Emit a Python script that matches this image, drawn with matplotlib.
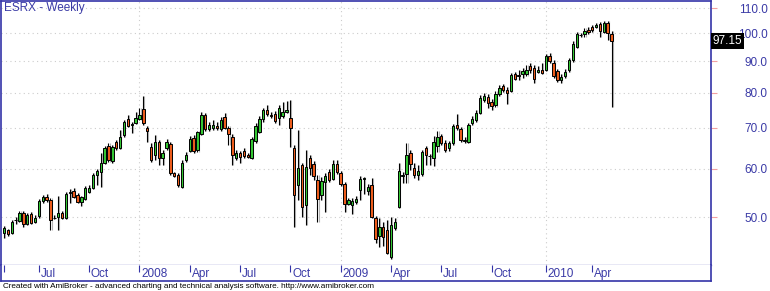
import matplotlib.pyplot as plt
import matplotlib.transforms as mtransforms

plt.rcParams['font.family'] = ['Liberation Sans', 'DejaVu Sans']

# -------------------------------
# Weekly OHLC
# -------------------------------
opens = [47.1, 47.6, 47.1, 49.4, 49.3, 50.7, 48.8, 50.6, 49.1, 50.2,
         53.2, 54.0, 53.3, 49.9, 50.0, 50.8, 49.8, 54.7, 55.2, 54.3,
         53.0, 53.6, 55.0, 55.9, 58.6, 59.3, 61.3, 65.5, 61.8, 66.3,
         65.0, 68.1, 72.5, 70.9, 71.4, 72.5, 75.1, 69.9, 65.2, 63.2,
         66.3, 62.4, 65.0, 65.9, 59.0, 58.6, 56.1, 62.0, 64.2, 67.4,
         64.3, 68.5, 73.4, 69.6, 69.9, 70.6, 69.6, 72.9, 69.9, 67.7,
         62.5, 63.6, 64.1, 63.2, 62.5, 66.6, 69.0, 72.3, 74.8, 73.4,
         73.9, 72.8, 73.2, 74.3, 72.8, 65.0, 56.4, 60.9, 52.3, 62.5,
         61.2, 57.5, 54.3, 57.1, 59.3, 57.8, 61.2, 59.0, 56.6, 52.6,
         52.3, 53.0, 55.3, 57.8, 55.1, 56.4, 49.8, 46.5, 48.2, 47.7,
         43.0, 47.9, 52.0, 58.4, 58.8, 63.7, 60.1, 58.6, 58.8, 64.8,
         62.9, 62.4, 65.5, 67.9, 66.2, 64.8, 66.0, 70.7, 69.6, 66.6,
         66.4, 71.2, 72.0, 74.1, 77.9, 78.7, 77.2, 76.2, 79.7, 81.9,
         80.9, 80.5, 85.7, 85.4, 85.7, 85.9, 88.3, 87.9, 86.4, 87.0,
         87.2, 91.7, 89.4, 86.7, 83.8, 85.0, 87.0, 90.3, 95.0, 99.3,
         99.6, 101.4, 102.4, 102.4, 103.7, 100.5, 104.0, 99.9]
highs = [48.3, 47.8, 49.4, 50.0, 51.2, 51.2, 50.8, 51.0, 50.4, 53.5,
         54.3, 54.5, 53.7, 50.4, 54.1, 51.2, 54.9, 55.5, 55.8, 54.7,
         54.1, 56.2, 56.4, 59.0, 60.0, 63.6, 65.3, 66.1, 65.6, 66.8,
         69.4, 72.0, 73.4, 71.5, 74.3, 75.4, 79.0, 70.5, 66.1, 68.1,
         66.8, 64.3, 67.1, 66.4, 59.3, 59.0, 62.0, 63.8, 67.9, 68.1,
         69.1, 74.3, 74.0, 71.5, 72.1, 71.5, 72.9, 74.0, 70.5, 68.3,
         64.3, 64.1, 64.8, 63.6, 67.6, 71.3, 73.1, 75.4, 76.2, 74.3,
         74.6, 76.2, 77.1, 77.4, 77.7, 65.6, 69.4, 61.3, 64.3, 63.1,
         61.8, 58.6, 58.1, 59.0, 59.9, 62.0, 62.0, 59.5, 57.0, 53.7,
         53.7, 54.1, 58.3, 58.1, 56.6, 57.9, 50.2, 49.8, 49.1, 49.4,
         50.0, 49.8, 61.3, 59.3, 66.1, 64.3, 61.3, 60.9, 64.3, 65.3,
         63.4, 67.9, 69.1, 68.3, 66.8, 66.6, 71.0, 73.7, 70.2, 67.6,
         71.3, 73.1, 74.8, 79.2, 79.8, 79.5, 78.0, 80.4, 82.2, 82.5,
         81.6, 86.0, 86.3, 87.0, 87.6, 88.6, 89.3, 88.6, 88.3, 89.3,
         92.4, 92.8, 90.3, 87.3, 85.7, 87.3, 91.0, 97.0, 100.4, 100.0,
         102.0, 102.3, 103.1, 103.8, 104.2, 104.6, 104.6, 100.8]
lows = [46.2, 46.5, 46.9, 48.7, 49.1, 48.1, 48.5, 48.7, 48.9, 49.8,
        52.7, 52.9, 47.6, 49.6, 47.6, 49.6, 49.6, 52.7, 53.7, 52.7,
        52.1, 53.3, 54.7, 55.5, 56.4, 56.1, 61.0, 61.5, 61.3, 64.3,
        64.6, 67.6, 70.2, 68.6, 71.0, 72.1, 70.7, 66.4, 61.5, 62.0,
        60.9, 60.9, 64.3, 58.6, 58.1, 56.0, 55.8, 61.5, 63.8, 63.6,
        63.8, 68.1, 69.1, 69.1, 69.4, 69.4, 69.1, 69.6, 65.6, 60.9,
        62.0, 61.3, 62.4, 62.4, 62.2, 66.1, 68.6, 71.5, 73.1, 72.6,
        71.3, 70.7, 72.6, 74.0, 65.2, 48.2, 53.3, 50.0, 48.5, 58.6,
        57.5, 49.1, 53.3, 50.9, 57.0, 57.5, 58.8, 56.2, 50.9, 52.3,
        50.6, 52.5, 53.3, 54.5, 54.3, 49.8, 45.3, 44.6, 44.8, 43.5,
        42.7, 47.6, 51.7, 56.9, 56.9, 59.7, 57.9, 57.5, 58.3, 60.9,
        60.9, 60.6, 63.8, 65.6, 63.8, 64.1, 65.6, 69.4, 66.4, 66.1,
        66.1, 70.7, 71.5, 73.7, 77.1, 75.4, 74.8, 75.7, 78.9, 80.1,
        76.5, 80.1, 83.8, 83.8, 84.4, 85.0, 86.0, 82.8, 86.0, 85.7,
        86.7, 89.3, 84.4, 83.2, 82.8, 84.4, 86.3, 89.6, 94.5, 98.5,
        98.5, 99.6, 100.4, 101.9, 98.5, 100.0, 97.4, 75.6]
closes = [47.9, 46.9, 49.1, 49.5, 50.8, 48.8, 50.4, 48.9, 49.9, 53.2,
          53.9, 53.3, 49.4, 49.8, 50.8, 49.9, 54.5, 54.9, 54.0, 53.0,
          53.9, 55.7, 55.9, 58.6, 59.6, 61.3, 64.8, 62.1, 65.2, 64.8,
          67.7, 71.6, 70.6, 71.0, 72.8, 73.4, 71.4, 69.2, 62.0, 66.3,
          62.5, 63.6, 66.3, 59.0, 58.4, 56.4, 61.4, 63.3, 67.1, 64.1,
          68.8, 73.6, 69.6, 70.7, 70.9, 69.9, 72.0, 70.1, 68.3, 63.2,
          63.6, 62.8, 62.9, 62.8, 67.1, 70.6, 72.5, 74.8, 73.9, 73.3,
          71.8, 75.5, 74.2, 74.8, 69.9, 54.4, 60.1, 52.0, 60.4, 60.1,
          58.4, 53.6, 57.3, 58.4, 57.5, 61.2, 59.2, 56.6, 52.5, 53.3,
          53.1, 53.6, 57.8, 57.9, 56.1, 50.1, 46.0, 48.2, 46.4, 43.7,
          48.5, 49.0, 59.5, 58.5, 63.2, 61.2, 58.6, 59.5, 63.9, 63.2,
          63.0, 66.4, 67.7, 66.2, 64.5, 66.0, 70.5, 69.9, 66.8, 67.0,
          70.7, 72.5, 74.1, 78.5, 78.9, 76.9, 75.9, 79.5, 81.5, 80.7,
          79.9, 85.4, 84.3, 85.3, 86.8, 87.2, 87.0, 84.3, 87.0, 86.1,
          91.7, 90.1, 85.0, 83.8, 84.8, 86.4, 90.3, 96.2, 99.6, 99.2,
          100.9, 100.5, 101.1, 103.1, 100.9, 104.0, 100.1, 97.15]

tick_pos = [0, 9, 22, 35, 48, 61, 74, 87, 100, 113, 126, 140, 152]
tick_labels = ["", "Jul", "Oct", "2008", "Apr", "Jul", "Oct", "2009",
               "Apr", "Jul", "Oct", "2010", "Apr"]
year_pos = [35, 87, 140]
price_levels = [50, 60, 70, 80, 90, 100, 110]

# -------------------------------
# Colours
# -------------------------------
frame_blue = '#3434a8'
text_blue = '#3a3aa6'
up_green = '#33c633'
down_orange = '#ec5c1c'

W, H = 770, 291
fig = plt.figure(figsize=(W / 100, H / 100), dpi=100)
fig.patch.set_facecolor('white')

# main price pane
ax = fig.add_axes([1 / W, 1 - 265 / H, 710 / W, 264.5 / H])
ax.set_yscale('log')
ax.set_ylim(41.73, 113.2)
ax.set_xlim(-0.78, 182.7)

x = list(range(len(closes)))
colors = [up_green if c >= o else down_orange for o, c in zip(opens, closes)]
bottoms = [min(o, c) for o, c in zip(opens, closes)]
heights = [max(abs(c - o), 0.08) for o, c in zip(opens, closes)]

# light shadow next to each wick, then the wick itself
ax.vlines([i + 0.28 for i in x], lows, highs, color='#b4b4b4', linewidth=0.8, zorder=1)
ax.vlines(x, lows, highs, color='black', linewidth=0.8, zorder=2)
ax.bar(x, heights, bottom=bottoms, width=0.62, color=colors,
       edgecolor='black', linewidth=0.7, zorder=3)

# grid
for lv in price_levels:
    ax.axhline(lv, color='#cccccc', linestyle=(0, (1, 3)), linewidth=0.8, zorder=0)
for yp in year_pos:
    ax.axvline(yp, color='#cccccc', linestyle=(0, (1, 3)), linewidth=0.8, zorder=0)

# y axis on the right
ax.yaxis.tick_right()
ax.yaxis.set_minor_locator(plt.NullLocator())
ax.set_yticks(price_levels, labels=[f"{v:.1f}" for v in price_levels])
ax.yaxis.set_minor_formatter(plt.NullFormatter())
ax.tick_params(axis='y', which='major', direction='out', length=4, width=0.8,
               color='#f2a0a0', labelcolor=text_blue, labelsize=8.5, pad=37)
for lbl in ax.get_yticklabels():
    lbl.set_horizontalalignment('right')
ax.tick_params(axis='x', bottom=False, labelbottom=False)

for side in ['left', 'top', 'right']:
    ax.spines[side].set_color(frame_blue)
    ax.spines[side].set_linewidth(1.2)
ax.spines['bottom'].set_color('#8c8cd0')
ax.spines['bottom'].set_linewidth(1.0)

# last price box
trans = mtransforms.blended_transform_factory(ax.transAxes, ax.transData)
ax.text(1.0025, closes[-1], f"{closes[-1]:.2f}", transform=trans,
        ha='left', va='center', color='white', fontsize=8.5, zorder=10,
        bbox=dict(facecolor='black', edgecolor='none', pad=1.2), clip_on=False)

# -------------------------------
# Date band
# -------------------------------
axb = fig.add_axes([1 / W, 1 - 281 / H, 710 / W, 16 / H])
axb.set_xlim(-0.78, 182.7)
axb.set_ylim(0, 1)
axb.set_yticks([])
axb.set_xticks(tick_pos)
axb.tick_params(axis='x', bottom=False, top=True, labelbottom=False,
                labeltop=False, direction='in', length=5, width=0.8,
                color=frame_blue)
for side in ['left', 'bottom', 'right']:
    axb.spines[side].set_color(frame_blue)
    axb.spines[side].set_linewidth(1.2)
axb.spines['top'].set_visible(False)
for p, lab in zip(tick_pos, tick_labels):
    axb.text(p + 0.45, 0.42, lab, ha='left', va='center',
             color=text_blue, fontsize=8.5)

# -------------------------------
# Title and footer
# -------------------------------
fig.text(4 / W, 1 - 8.5 / H, "ESRX - Weekly", ha='left', va='center',
         color=text_blue, fontsize=8.5)
fig.text(3 / W, 1 - 286 / H,
         "Created with AmiBroker - advanced charting and technical analysis software. http://www.amibroker.com",
         ha='left', va='center', color='black', fontsize=5.9)

fig.savefig("out.png", dpi=100)
